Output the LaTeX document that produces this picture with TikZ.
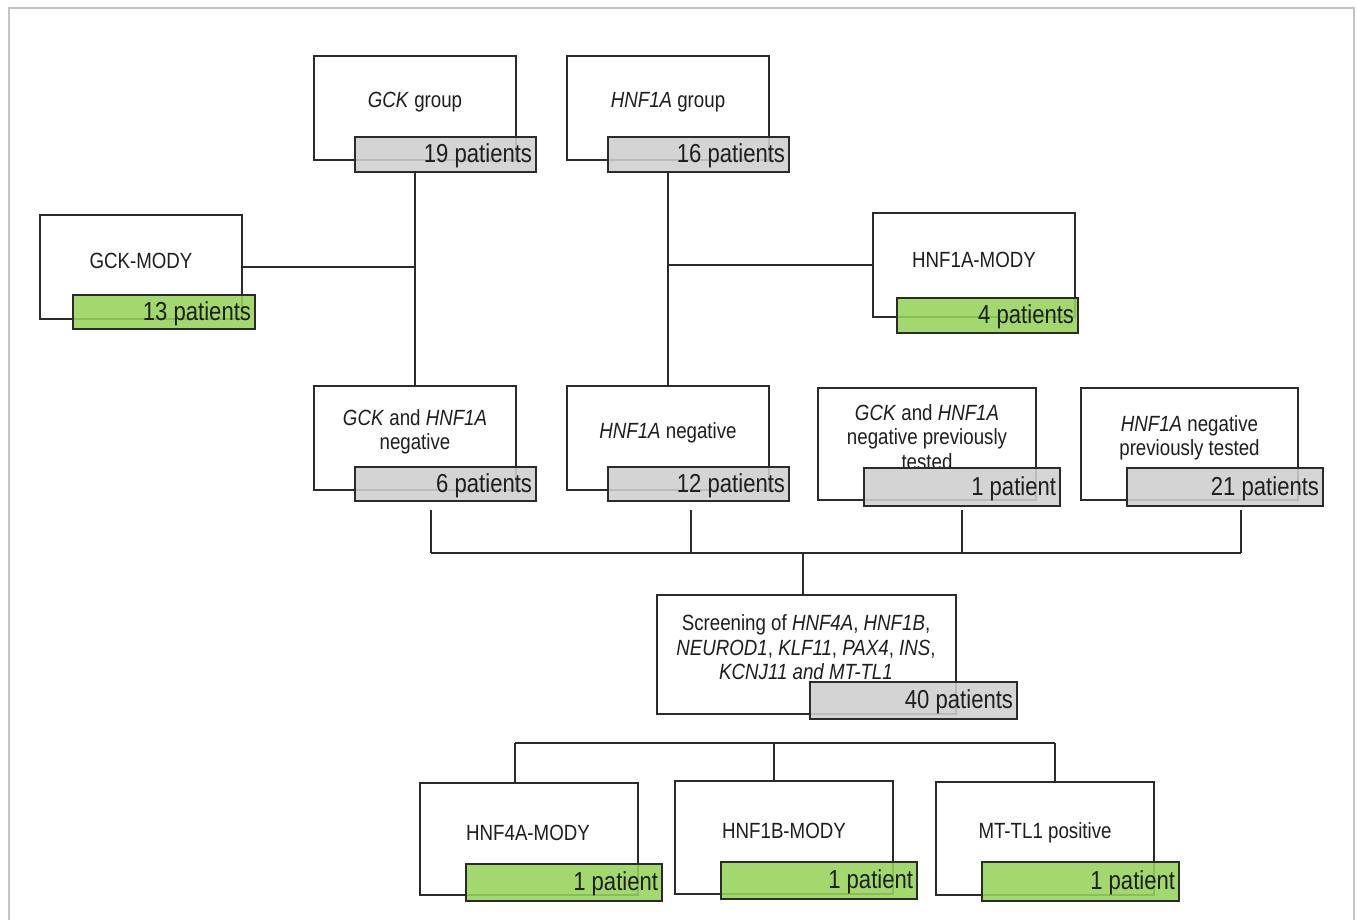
\documentclass[tikz,border=0pt]{standalone}
\usepackage{fontspec}
\setmainfont{Liberation Sans}[FakeStretch=0.85]
\definecolor{edge}{HTML}{2B2B2B}
\definecolor{txt}{HTML}{1E1E1E}
\definecolor{badgegray}{HTML}{CFCFCF}
\definecolor{badgegreen}{HTML}{96D35A}
\definecolor{framegray}{HTML}{C4C4C4}
\tikzset{
  mainbox/.style={draw=edge, line width=2.5pt, fill=white, inner sep=0pt},
  maintext/.style={text=txt, align=center, inner sep=0pt, yshift=-1.5pt, font=\fontsize{22}{24.5}\selectfont},
  badge/.style={draw=edge, line width=2.5pt, fill=#1, fill opacity=0.88, draw opacity=1, inner sep=0pt},
  badgetext/.style={text=txt, inner sep=0pt, anchor=east, yshift=-1.5pt, font=\fontsize{26}{28}\selectfont},
  conn/.style={draw=edge, line width=2.2pt},
  thinconn/.style={draw=edge, line width=1.6pt},
}
\begin{document}
\begin{tikzpicture}[x=1pt, y=-1pt]
\useasboundingbox (0,0) rectangle (1357,920);
\draw[framegray, line width=2pt] (9,925) -- (9,8) -- (1354,8) -- (1354,925);

% ---- main boxes ----
\node[mainbox, minimum width=202, minimum height=104] (gck) at (415,108) {};
\node[maintext] (gckt) at (415,101) {\textit{GCK} group};
\node[mainbox, minimum width=202, minimum height=104] (hnf) at (668,108) {};
\node[maintext] (hnft) at (668,101) {\textit{HNF1A} group};
\node[mainbox, minimum width=202, minimum height=104] (gckm) at (141,267) {};
\node[maintext] (gckmt) at (141,259) {GCK-MODY};
\node[mainbox, minimum width=202, minimum height=104] (hnfm) at (974,265) {};
\node[maintext] (hnfmt) at (974,258) {HNF1A-MODY};
\node[mainbox, minimum width=202, minimum height=104] (neg1) at (415,438) {};
\node[maintext] (neg1t) at (415,430.5) {\textit{GCK} and \textit{HNF1A}\\negative};
\node[mainbox, minimum width=202, minimum height=104] (neg2) at (668,438) {};
\node[maintext] (neg2t) at (668,431) {\textit{HNF1A} negative};
\node[mainbox, minimum width=218, minimum height=112] (prev1) at (927,444) {};
\node[maintext] (prev1t) at (927,435.5) {\textit{GCK} and \textit{HNF1A}\\negative previously\\tested};
\node[mainbox, minimum width=217, minimum height=112] (prev2) at (1189.5,444) {};
\node[maintext] (prev2t) at (1189.5,436.5) {\textit{HNF1A} negative\\previously tested};
\node[mainbox, minimum width=299, minimum height=119] (scr) at (806.5,654.5) {};
\node[maintext] (scrt) at (806,646) {Screening of \textit{HNF4A}, \textit{HNF1B},\\\textit{NEUROD1}, \textit{KLF11}, \textit{PAX4}, \textit{INS},\\\textit{KCNJ11 and MT-TL1}};
\node[mainbox, minimum width=218, minimum height=112] (h4) at (529,839) {};
\node[maintext] (h4t) at (528,831) {HNF4A-MODY};
\node[mainbox, minimum width=218, minimum height=113] (h1b) at (784,837.5) {};
\node[maintext] (h1bt) at (784,829) {HNF1B-MODY};
\node[mainbox, minimum width=218, minimum height=113] (mt) at (1045,838.5) {};
\node[maintext] (mtt) at (1045,831) {MT-TL1 positive};

% ---- badges ----
\node[badge=badgegray, minimum width=181, minimum height=35] (b1) at (445.5,154.5) {};
\node[badgetext] at ([xshift=-5]b1.east) {19 patients};
\node[badge=badgegray, minimum width=181, minimum height=35] (b2) at (698.5,154.5) {};
\node[badgetext] at ([xshift=-5]b2.east) {16 patients};
\node[badge=badgegreen, minimum width=182, minimum height=34] (b3) at (164,312) {};
\node[badgetext] at ([xshift=-5]b3.east) {13 patients};
\node[badge=badgegreen, minimum width=181, minimum height=35] (b4) at (987.5,315.5) {};
\node[badgetext] at ([xshift=-5]b4.east) {4 patients};
\node[badge=badgegray, minimum width=181, minimum height=34] (b5) at (445.5,484) {};
\node[badgetext] at ([xshift=-5]b5.east) {6 patients};
\node[badge=badgegray, minimum width=181, minimum height=34] (b6) at (698.5,484) {};
\node[badgetext] at ([xshift=-5]b6.east) {12 patients};
\node[badge=badgegray, minimum width=196, minimum height=38] (b7) at (962,487) {};
\node[badgetext] at ([xshift=-5]b7.east) {1 patient};
\node[badge=badgegray, minimum width=196, minimum height=38] (b8) at (1225,487) {};
\node[badgetext] at ([xshift=-5]b8.east) {21 patients};
\node[badge=badgegray, minimum width=207, minimum height=37] (b9) at (913.5,700.5) {};
\node[badgetext] at ([xshift=-5]b9.east) {40 patients};
\node[badge=badgegreen, minimum width=196, minimum height=37] (b10) at (564,882.5) {};
\node[badgetext] at ([xshift=-5]b10.east) {1 patient};
\node[badge=badgegreen, minimum width=196, minimum height=37] (b11) at (819,880.5) {};
\node[badgetext] at ([xshift=-5]b11.east) {1 patient};
\node[badge=badgegreen, minimum width=197, minimum height=39] (b12) at (1080.5,881.5) {};
\node[badgetext] at ([xshift=-5]b12.east) {1 patient};

% ---- connectors top ----
\draw[conn] (gck.south |- b1.south) -- (neg1.north);
\draw[conn] (gckm.east) -- (gckm.east -| gck.south);
\draw[conn] (hnf.south |- b2.south) -- (neg2.north);
\draw[conn] (hnfm.west) -- (hnfm.west -| hnf.south);

% ---- connectors middle ----
\coordinate (t1) at (431,510);
\coordinate (t2) at (691,510);
\coordinate (t3) at (962,510);
\coordinate (t4) at (1241,510);
\coordinate (bus) at (803,553);
\draw[thinconn] (t1) -- (t1 |- bus);
\draw[thinconn] (t2) -- (t2 |- bus);
\draw[thinconn] (t3) -- (t3 |- bus);
\draw[thinconn] (t4) -- (t4 |- bus);
\draw[thinconn] (t1 |- bus) -- (t4 |- bus);
\draw[thinconn] (bus) -- (bus |- scr.north);

% ---- connectors bottom ----
\coordinate (u1) at (515,743);
\coordinate (u2) at (774,743);
\coordinate (u3) at (1055,743);
\draw[thinconn] (u1) -- (u3);
\draw[thinconn] (u1) -- (u1 |- h4.north);
\draw[thinconn] (u2) -- (u2 |- h1b.north);
\draw[thinconn] (u3) -- (u3 |- mt.north);
\end{tikzpicture}
\end{document}
